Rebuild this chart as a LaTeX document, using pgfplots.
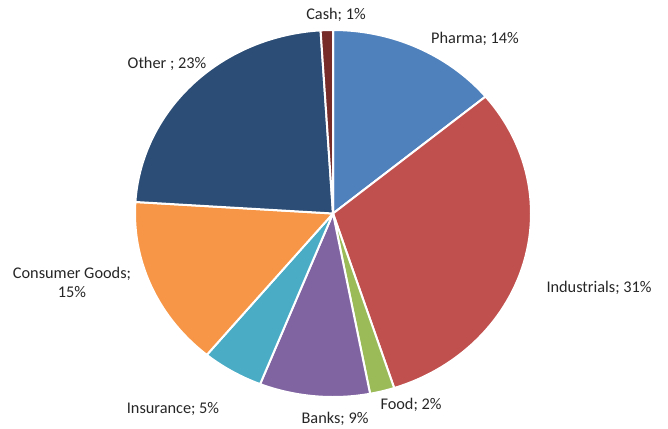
\documentclass[border=0pt]{standalone}
\usepackage{pgfplots}
\pgfplotsset{compat=1.18}
\usepackage{fontspec}
\setmainfont{Carlito}

\definecolor{cPharma}{HTML}{4F81BD}
\definecolor{cInd}{HTML}{C0504D}
\definecolor{cFood}{HTML}{9BBB59}
\definecolor{cBanks}{HTML}{8064A2}
\definecolor{cIns}{HTML}{4BACC6}
\definecolor{cCons}{HTML}{F79646}
\definecolor{cOther}{HTML}{2C4D75}
\definecolor{cCash}{HTML}{772C2A}

\tikzset{lbl/.style={font=\fontsize{16.3}{19}\selectfont, text=black!85, inner sep=0pt}}

% slice: cumulative share before it, share, colour (clockwise from 12 o'clock)
\newcommand{\slice}[3]{%
  \addplot[fill=#3, draw=white, line width=2pt, line join=round,
    domain={90-3.6*(#1+#2)}:{90-3.6*#1}, samples=60]
    ({333+198*cos(x)}, {213.5-183.5*sin(x)}) -- (axis cs:333,213.5) -- cycle;}

\begin{document}
\begin{tikzpicture}
\begin{axis}[
  name=pie, anchor=south west, at={(0,0)},
  width=668pt, height=428pt, scale only axis,
  xmin=0, xmax=668, ymin=0, ymax=428, y dir=reverse,
  hide axis, clip=false,
]
\slice{0}{14}{cPharma}
\slice{14}{31}{cInd}
\slice{45}{2}{cFood}
\slice{47}{9}{cBanks}
\slice{56}{5}{cIns}
\slice{61}{15}{cCons}
\slice{76}{23}{cOther}
\slice{99}{1}{cCash}

\node[lbl] at (axis cs:336,15) {Cash; 1\%};
\node[lbl] at (axis cs:475,39) {Pharma; 14\%};
\node[lbl] at (axis cs:599,288) {Industrials; 31\%};
\node[lbl] at (axis cs:411,405) {Food; 2\%};
\node[lbl] at (axis cs:335,419) {Banks; 9\%};
\node[lbl] at (axis cs:173,409) {Insurance; 5\%};
\node[lbl, align=center] at (axis cs:72,282) {Consumer Goods;\\15\%};
\node[lbl] at (axis cs:167,64) {Other ; 23\%};
\end{axis}
\pgfresetboundingbox
\path[use as bounding box] (0,0) rectangle (668pt,428pt);
\end{tikzpicture}
\end{document}
